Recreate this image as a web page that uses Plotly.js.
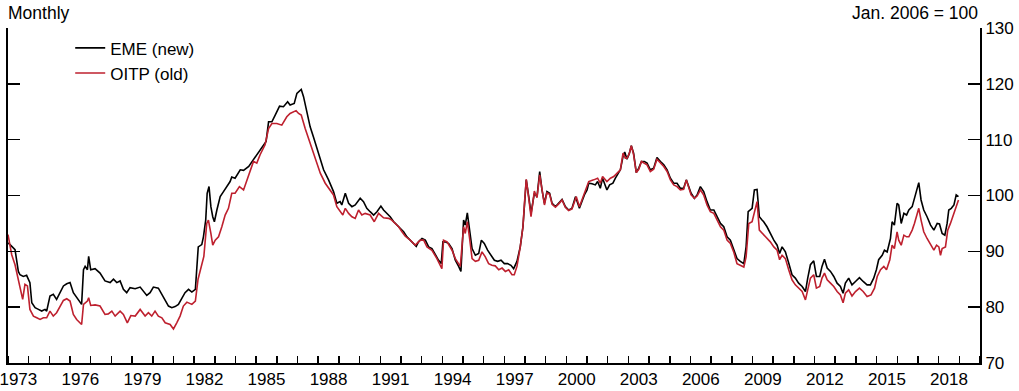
<!DOCTYPE html>
<html>
<head>
<meta charset="utf-8">
<script src="https://cdn.plot.ly/plotly-3.0.1.min.js"></script>
<style>
html,body{margin:0;padding:0;background:#fff;}
#chart{width:1019px;height:391px;}
</style>
</head>
<body>
<div id="chart"></div>
<script>
// EME (new) series: decimal year and index value (Jan. 2006 = 100)
var emeYears = [1973.00,1973.10,1973.34,1973.50,1973.58,1973.74,1973.90,1974.06,1974.15,1974.31,1974.47,1974.63,1974.79,1974.87,1975.03,1975.19,1975.35,1975.52,1975.68,1975.84,1976.00,1976.16,1976.32,1976.56,1976.65,1976.73,1976.84,1976.90,1977.00,1977.21,1977.45,1977.69,1977.94,1978.10,1978.26,1978.42,1978.58,1978.74,1978.90,1979.15,1979.39,1979.55,1979.71,1979.87,1980.03,1980.27,1980.44,1980.60,1980.76,1980.92,1981.08,1981.24,1981.40,1981.56,1981.73,1981.89,1982.06,1982.13,1982.20,1982.37,1982.45,1982.56,1982.63,1982.72,1982.81,1982.90,1982.98,1983.10,1983.26,1983.42,1983.58,1983.74,1983.82,1983.98,1984.23,1984.39,1984.64,1984.87,1985.03,1985.27,1985.48,1985.60,1985.76,1985.92,1986.13,1986.32,1986.52,1986.64,1986.84,1986.97,1987.18,1987.29,1987.45,1987.61,1987.77,1987.93,1988.10,1988.26,1988.50,1988.74,1988.90,1989.06,1989.14,1989.31,1989.47,1989.63,1989.79,1990.03,1990.19,1990.35,1990.51,1990.68,1990.84,1991.03,1991.16,1991.32,1991.48,1991.65,1991.81,1991.97,1992.13,1992.29,1992.45,1992.61,1992.74,1992.85,1993.02,1993.18,1993.34,1993.50,1993.66,1993.82,1993.95,1994.03,1994.15,1994.31,1994.47,1994.63,1994.79,1994.90,1995.03,1995.11,1995.21,1995.32,1995.44,1995.60,1995.76,1995.89,1996.03,1996.19,1996.35,1996.52,1996.68,1996.84,1997.00,1997.16,1997.32,1997.45,1997.61,1997.77,1997.90,1997.98,1998.06,1998.18,1998.29,1998.45,1998.58,1998.71,1998.82,1998.94,1999.06,1999.19,1999.31,1999.47,1999.63,1999.79,1999.95,2000.11,2000.27,2000.44,2000.63,2000.75,2000.87,2001.00,2001.08,2001.24,2001.40,2001.51,2001.64,2001.75,2001.85,2001.96,2002.09,2002.25,2002.37,2002.48,2002.61,2002.74,2002.82,2002.93,2003.04,2003.14,2003.25,2003.38,2003.50,2003.63,2003.77,2003.90,2004.06,2004.22,2004.38,2004.55,2004.71,2004.87,2005.03,2005.19,2005.35,2005.51,2005.67,2005.80,2005.92,2006.03,2006.19,2006.32,2006.48,2006.64,2006.80,2006.96,2007.13,2007.29,2007.45,2007.61,2007.77,2007.93,2008.09,2008.25,2008.41,2008.58,2008.69,2008.79,2008.98,2009.09,2009.22,2009.33,2009.46,2009.54,2009.70,2009.86,2010.03,2010.19,2010.31,2010.43,2010.59,2010.75,2010.91,2011.07,2011.23,2011.40,2011.56,2011.67,2011.80,2011.96,2012.09,2012.25,2012.36,2012.48,2012.61,2012.77,2012.93,2013.09,2013.25,2013.38,2013.49,2013.65,2013.81,2013.98,2014.17,2014.35,2014.54,2014.70,2014.86,2014.99,2015.10,2015.27,2015.38,2015.51,2015.67,2015.75,2015.86,2015.99,2016.07,2016.19,2016.32,2016.45,2016.56,2016.72,2016.83,2016.93,2017.04,2017.15,2017.28,2017.44,2017.61,2017.77,2017.93,2018.04,2018.17,2018.30,2018.41,2018.49,2018.61,2018.74,2018.85,2018.96];
var emeValues = [91.5,91.2,90.3,86.4,85.8,85.5,85.7,84.4,80.8,79.9,79.6,79.3,79.6,79.3,82.0,82.3,81.4,82.6,83.8,84.2,84.4,82.6,81.7,80.5,86.7,87.3,86.7,89.1,86.7,86.9,86.1,84.7,84.4,85.0,84.4,84.7,83.2,82.6,83.5,83.3,83.6,82.9,82.1,82.6,83.6,83.4,82.3,81.1,80.2,79.9,80.1,80.5,81.7,82.6,83.2,82.7,83.2,86.7,90.8,91.2,92.6,95.6,100.4,101.6,98.0,96.2,95.3,97.4,99.8,100.7,101.6,102.5,103.3,103.1,104.6,104.5,105.2,106.4,107.3,108.5,109.7,113.2,113.2,114.4,116.0,115.9,116.8,116.2,116.5,118.3,119.0,117.7,114.7,112.3,110.5,108.7,106.4,104.6,102.8,100.7,98.6,98.9,98.3,100.4,98.6,98.0,98.3,99.5,98.9,97.7,97.1,96.5,97.1,98.1,97.4,96.8,96.2,95.3,94.7,94.1,93.5,92.6,92.0,91.4,90.9,91.7,92.3,92.0,90.8,90.5,89.3,88.4,87.8,91.7,91.7,91.4,90.5,88.4,87.3,86.4,95.6,94.7,96.9,93.8,90.5,89.3,89.6,92.0,91.4,90.2,89.3,88.4,88.2,88.4,87.8,87.8,87.5,86.9,88.2,90.8,94.4,99.2,102.8,99.8,96.8,100.4,99.8,104.3,101.0,98.6,100.7,100.4,98.6,98.0,98.6,99.3,98.0,97.4,97.7,99.8,97.7,98.9,100.1,101.0,102.2,102.1,101.9,102.5,101.3,103.1,102.2,101.0,101.9,102.2,103.1,103.7,104.6,107.0,107.8,106.5,107.5,108.9,107.6,104.1,104.9,106.1,106.1,105.8,104.6,104.9,106.8,106.1,105.5,104.6,103.1,102.2,102.2,101.3,101.3,102.8,101.6,100.4,99.5,100.1,101.6,100.7,98.9,97.4,97.4,96.2,95.0,94.4,92.6,92.0,90.5,88.7,88.2,87.8,90.8,97.1,97.7,101.0,101.1,96.2,95.6,95.3,94.4,93.2,92.0,91.1,89.6,90.8,89.9,87.9,85.8,85.2,84.3,83.7,82.8,85.2,87.6,88.3,85.5,85.5,87.3,88.6,87.0,86.4,85.5,84.3,83.7,82.5,84.3,85.2,84.0,84.6,85.3,84.6,84.0,84.0,85.2,86.7,88.5,89.3,90.2,89.9,92.3,95.3,94.7,98.6,98.3,95.0,96.8,96.5,97.4,98.0,99.5,101.3,102.3,99.2,97.4,96.2,94.7,93.8,95.0,94.9,93.2,92.9,95.0,97.4,97.7,98.3,100.1,99.8];

// OITP (old) series
var oitpYears = [1973.00,1973.18,1973.34,1973.50,1973.61,1973.71,1973.82,1973.94,1974.06,1974.23,1974.39,1974.55,1974.71,1974.87,1975.03,1975.19,1975.35,1975.52,1975.68,1975.84,1976.00,1976.16,1976.32,1976.56,1976.65,1976.84,1976.90,1977.00,1977.21,1977.45,1977.69,1977.85,1978.02,1978.18,1978.42,1978.58,1978.77,1978.94,1979.15,1979.39,1979.63,1979.79,1979.95,1980.11,1980.27,1980.44,1980.60,1980.84,1981.00,1981.16,1981.32,1981.48,1981.65,1981.89,1982.06,1982.19,1982.31,1982.47,1982.61,1982.69,1982.81,1982.90,1983.02,1983.18,1983.34,1983.50,1983.66,1983.82,1983.98,1984.19,1984.39,1984.63,1984.87,1985.03,1985.19,1985.43,1985.60,1985.76,1986.00,1986.24,1986.48,1986.64,1986.80,1986.93,1987.05,1987.18,1987.37,1987.53,1987.69,1987.85,1988.10,1988.34,1988.58,1988.74,1988.90,1989.06,1989.19,1989.31,1989.47,1989.63,1989.79,1989.95,1990.11,1990.27,1990.51,1990.71,1990.92,1991.16,1991.40,1991.56,1991.73,1991.89,1992.05,1992.21,1992.45,1992.69,1992.94,1993.10,1993.26,1993.50,1993.74,1993.98,1994.06,1994.23,1994.47,1994.63,1994.87,1995.03,1995.11,1995.21,1995.32,1995.44,1995.60,1995.76,1995.92,1996.08,1996.24,1996.40,1996.56,1996.73,1996.89,1997.05,1997.21,1997.37,1997.48,1997.61,1997.77,1997.90,1997.98,1998.06,1998.18,1998.29,1998.45,1998.58,1998.71,1998.82,1998.94,1999.06,1999.19,1999.31,1999.47,1999.63,1999.79,1999.95,2000.11,2000.27,2000.48,2000.63,2000.87,2001.08,2001.32,2001.51,2001.64,2001.75,2001.96,2002.13,2002.29,2002.45,2002.61,2002.74,2002.85,2002.93,2003.04,2003.14,2003.25,2003.38,2003.50,2003.63,2003.77,2003.90,2004.06,2004.22,2004.38,2004.55,2004.71,2004.87,2005.03,2005.19,2005.35,2005.51,2005.67,2005.80,2005.92,2006.03,2006.19,2006.32,2006.48,2006.64,2006.80,2006.96,2007.13,2007.29,2007.45,2007.61,2007.77,2007.93,2008.09,2008.25,2008.41,2008.58,2008.69,2008.82,2008.98,2009.14,2009.22,2009.33,2009.46,2009.63,2009.86,2010.03,2010.19,2010.31,2010.43,2010.59,2010.75,2010.91,2011.07,2011.23,2011.40,2011.56,2011.67,2011.80,2011.96,2012.09,2012.25,2012.36,2012.48,2012.61,2012.77,2012.93,2013.09,2013.25,2013.38,2013.49,2013.65,2013.81,2013.98,2014.17,2014.35,2014.54,2014.73,2014.90,2015.03,2015.19,2015.35,2015.48,2015.64,2015.75,2015.86,2015.99,2016.07,2016.19,2016.32,2016.45,2016.56,2016.72,2016.83,2016.93,2017.04,2017.15,2017.28,2017.44,2017.61,2017.77,2017.90,2018.01,2018.09,2018.17,2018.33,2018.44,2018.57,2018.74,2018.90,2018.96];
var oitpValues = [93.0,89.4,87.6,85.0,83.5,81.4,84.1,83.8,79.6,78.4,78.1,77.8,78.1,78.1,79.3,78.4,79.0,80.2,81.2,81.5,81.1,78.7,77.8,76.9,80.5,81.1,81.7,80.3,80.4,80.2,78.7,78.8,79.3,78.4,79.3,78.7,77.2,78.5,78.4,79.6,78.4,79.0,78.4,79.3,78.4,78.1,77.2,76.9,76.1,77.2,78.4,80.2,80.9,80.5,81.1,85.0,87.0,89.1,95.0,95.6,93.2,91.1,92.0,92.6,94.4,96.5,97.7,100.4,100.4,101.6,101.0,103.4,106.1,105.8,107.3,109.1,112.0,112.9,112.9,112.6,114.1,114.7,115.0,115.2,114.7,114.4,112.0,110.2,108.2,106.4,104.0,102.2,101.0,100.1,98.0,97.1,96.5,97.7,96.8,96.2,95.9,97.4,96.5,96.8,96.5,95.3,96.8,96.0,95.9,95.6,94.9,94.4,93.5,92.7,92.0,91.1,92.0,92.0,90.8,90.2,88.7,86.9,92.0,91.7,90.2,88.7,87.3,94.4,93.2,95.3,92.3,88.7,88.2,88.4,89.9,89.0,87.8,87.5,87.4,86.7,87.0,86.4,86.7,85.8,85.8,87.3,90.8,94.4,99.0,102.9,99.5,96.2,100.8,99.6,103.7,100.8,98.3,100.5,100.2,98.4,97.9,98.5,99.2,97.9,97.3,97.6,99.8,98.0,100.4,102.5,102.8,103.1,102.2,103.4,102.5,103.1,103.4,104.0,104.6,107.6,106.7,106.7,107.5,108.9,107.3,104.1,104.7,106.1,105.8,105.5,104.3,104.7,106.5,105.8,105.2,104.3,102.8,101.9,101.6,101.0,101.1,102.8,101.3,100.1,99.5,99.9,101.0,100.1,98.3,97.1,96.8,95.6,94.4,93.8,92.0,91.4,89.9,87.8,87.5,87.2,89.0,95.0,95.3,97.4,98.9,93.8,93.2,92.6,91.7,90.8,90.2,88.5,89.3,88.7,86.7,84.9,84.0,83.4,82.8,81.3,83.1,85.2,85.8,83.4,83.7,85.2,86.1,84.9,84.3,83.7,82.8,82.2,80.8,82.5,83.1,82.0,82.8,83.4,82.8,81.9,82.2,83.4,85.5,86.7,87.3,86.7,88.5,91.1,90.5,93.5,92.0,91.1,92.9,92.6,92.6,93.8,95.0,96.5,97.7,95.6,93.5,92.3,91.1,90.2,91.1,90.8,89.3,90.5,90.8,93.8,95.0,96.8,98.6,99.2];

// Axis labels
var yearLabels = ['1973','1976','1979','1982','1985','1988','1991','1994','1997','2000','2003','2006','2009','2012','2015','2018'];
var yearLabelPos = yearLabels.map(function(s){ return Number(s) + 0.5; });
var yTicks = [70,80,90,100,110,120,130];

var FONT = 'Liberation Sans, Arial, Helvetica, sans-serif';
var RED = '#be202e';

var traces = [
  {x: emeYears, y: emeValues, type: 'scatter', mode: 'lines', name: 'EME (new)',
   line: {color: '#000000', width: 1.6}, xaxis: 'x', yaxis: 'y'},
  {x: oitpYears, y: oitpValues, type: 'scatter', mode: 'lines', name: 'OITP (old)',
   line: {color: RED, width: 1.6}, xaxis: 'x', yaxis: 'y2'}
];

var axisCommon = {
  range: [70, 130], tickmode: 'array', tickvals: yTicks,
  ticks: 'inside', ticklen: 12, tickwidth: 1.5, tickcolor: '#000',
  showline: true, linecolor: '#000', linewidth: 2,
  showgrid: false, zeroline: false, fixedrange: true
};

var layout = {
  width: 1019, height: 391,
  margin: {l: 8, r: 39, t: 28, b: 28, pad: 0},
  paper_bgcolor: '#fff', plot_bgcolor: '#fff',
  font: {family: FONT, size: 17, color: '#000'},
  showlegend: true,
  legend: {x: 0.064, y: 0.993, xanchor: 'left', yanchor: 'top',
    bgcolor: 'rgba(0,0,0,0)', borderwidth: 0, font: {size: 17, family: FONT},
    tracegroupgap: 0},
  xaxis: {
    range: [1973, 2020], tickmode: 'array', tickvals: yearLabelPos, ticktext: yearLabels,
    ticks: '', ticklen: 0, showline: true, linecolor: '#000', linewidth: 2,
    showgrid: false, zeroline: false, fixedrange: true, ticklabeloverflow: 'allow',
    tickfont: {size: 17, family: FONT},
    minor: {tickmode: 'linear', tick0: 1973, dtick: 1, ticks: 'inside', ticklen: 7,
      tickwidth: 1.5, tickcolor: '#000', showgrid: false}
  },
  yaxis: Object.assign({}, axisCommon, {side: 'left', showticklabels: false}),
  yaxis2: Object.assign({}, axisCommon, {side: 'right', overlaying: 'y', showticklabels: true,
    tickfont: {size: 17, family: FONT}}),
  annotations: [
    {text: 'Monthly', xref: 'paper', yref: 'paper', x: 0, y: 1, xanchor: 'left', yanchor: 'bottom',
     showarrow: false, font: {size: 17.5, family: FONT}, xshift: -2, yshift: 3},
    {text: 'Jan. 2006 = 100', xref: 'paper', yref: 'paper', x: 1, y: 1, xanchor: 'right', yanchor: 'bottom',
     showarrow: false, font: {size: 17.5, family: FONT}, xshift: 0, yshift: 3}
  ]
};

Plotly.newPlot('chart', traces, layout, {staticPlot: true, displayModeBar: false});
</script>
</body>
</html>
